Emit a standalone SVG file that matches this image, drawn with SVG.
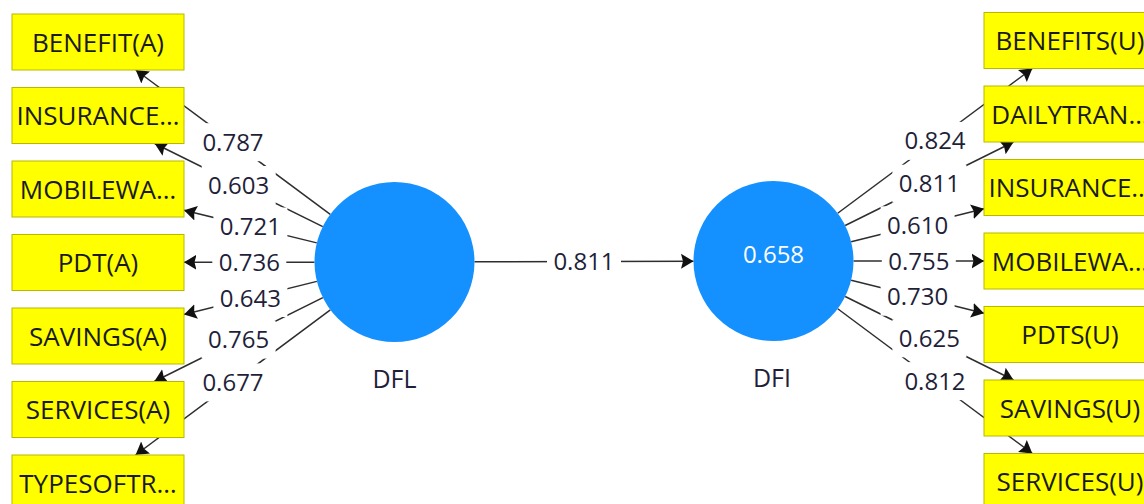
<svg xmlns="http://www.w3.org/2000/svg" width="1144" height="504" viewBox="0 0 1144 504">
  <defs>
    <style>
      .ind rect { fill: #FFFF00; stroke: #B8B800; stroke-width: 1; }
      .ind text { font-family: "Open Sans", "Noto Sans", sans-serif; font-size: 26px; fill: #1a1a1a; text-anchor: middle; }
      .lv circle { fill: #1590FF; }
      .lv text { font-family: "Open Sans", "Noto Sans", sans-serif; font-size: 25px; fill: #1f1f3a; text-anchor: middle; }
      .lv text.r2 { fill: #ffffff; font-size: 24px; }
      .edge { stroke: #2e2e2e; stroke-width: 1.5; fill: none; marker-end: url(#arrow); }
      .lblbg { fill: #ffffff; }
      .lbl { font-family: "Open Sans", "Noto Sans", sans-serif; font-size: 24px; fill: #1f1f3a; text-anchor: middle; }
    </style>
    <marker id="arrow" markerUnits="userSpaceOnUse" markerWidth="13" markerHeight="16" refX="12.5" refY="8" orient="auto">
      <path d="M0,0.5 L12.5,8 L0,15.5 L2,8 z" fill="#111111"/>
    </marker>
  </defs>

  <rect width="1144" height="504" fill="#ffffff"/>

  <!-- connectors: outer loadings, then the structural path -->
  <g id="connectors">
    <line class="edge" x1="330.25" y1="214.33" x2="135.74" y2="70"/>
    <line class="edge" x1="322.77" y1="226.56" x2="154.67" y2="143.5"/>
    <line class="edge" x1="316.82" y1="242.87" x2="184" y2="210.17"/>
    <line class="edge" x1="314.5" y1="262.13" x2="184" y2="262.35"/>
    <line class="edge" x1="316.88" y1="281.37" x2="184" y2="314.54"/>
    <line class="edge" x1="322.87" y1="297.63" x2="154.28" y2="381.5"/>
    <line class="edge" x1="330.36" y1="309.81" x2="135.57" y2="455"/>

    <line class="edge" x1="474.5" y1="261.8" x2="693.5" y2="261.2"/>

    <line class="edge" x1="837.69" y1="213.26" x2="1032.35" y2="68.5"/>
    <line class="edge" x1="845.18" y1="225.46" x2="1013.52" y2="142"/>
    <line class="edge" x1="851.14" y1="241.75" x2="984" y2="208.82"/>
    <line class="edge" x1="853.5" y1="261" x2="984" y2="261"/>
    <line class="edge" x1="851.14" y1="280.25" x2="984" y2="313.18"/>
    <line class="edge" x1="845.18" y1="296.54" x2="1013.52" y2="380"/>
    <line class="edge" x1="837.69" y1="308.74" x2="1032.35" y2="453.5"/>

    <!-- label backgrounds break the lines -->
    <g class="lblbg">
      <rect x="196.0" y="123.2" width="74" height="38"/>
      <rect x="201.7" y="166.0" width="74" height="38"/>
      <rect x="213.4" y="207.5" width="74" height="38"/>
      <rect x="212.3" y="243.2" width="74" height="38"/>
      <rect x="213.4" y="279.0" width="74" height="38"/>
      <rect x="201.6" y="320.6" width="74" height="38"/>
      <rect x="196.0" y="363.4" width="74" height="38"/>
      <rect x="547.0" y="242.5" width="74" height="38"/>
      <rect x="898.0" y="121.9" width="74" height="38"/>
      <rect x="892.4" y="164.7" width="74" height="38"/>
      <rect x="880.6" y="206.3" width="74" height="38"/>
      <rect x="881.8" y="242.0" width="74" height="38"/>
      <rect x="880.6" y="277.7" width="74" height="38"/>
      <rect x="892.4" y="319.3" width="74" height="38"/>
      <rect x="898.0" y="362.1" width="74" height="38"/>
    </g>
    <g class="lbl">
      <text class="lbl" x="233.0" y="150.7">0.787</text>
      <text class="lbl" x="238.7" y="193.5">0.603</text>
      <text class="lbl" x="250.4" y="235.0">0.721</text>
      <text class="lbl" x="249.3" y="270.7">0.736</text>
      <text class="lbl" x="250.4" y="306.5">0.643</text>
      <text class="lbl" x="238.6" y="348.1">0.765</text>
      <text class="lbl" x="233.0" y="390.9">0.677</text>
      <text class="lbl" x="584.0" y="270.0">0.811</text>
      <text class="lbl" x="935.0" y="149.4">0.824</text>
      <text class="lbl" x="929.4" y="192.2">0.811</text>
      <text class="lbl" x="917.6" y="233.8">0.610</text>
      <text class="lbl" x="918.8" y="269.5">0.755</text>
      <text class="lbl" x="917.6" y="305.2">0.730</text>
      <text class="lbl" x="929.4" y="346.8">0.625</text>
      <text class="lbl" x="935.0" y="389.6">0.812</text>
    </g>
  </g>

  <!-- latent variables -->
  <g id="DFL" class="lv">
    <circle cx="394.5" cy="262" r="80"/>
    <text x="394.5" y="388">DFL</text>
  </g>
  <g id="DFI" class="lv">
    <circle cx="773.5" cy="261" r="80"/>
    <text class="r2" x="773.5" y="263">0.658</text>
    <text x="772" y="387">DFI</text>
  </g>

  <!-- DFL indicators -->
  <g id="BENEFIT_A" class="ind"><rect x="12" y="14" width="172" height="56"/><text x="98" y="51.5">BENEFIT(A)</text></g>
  <g id="INSURANCE_A" class="ind"><rect x="12" y="87.5" width="172" height="56"/><text x="98" y="125">INSURANCE…</text></g>
  <g id="MOBILEWA_A" class="ind"><rect x="12" y="161" width="172" height="56"/><text x="98" y="198.5">MOBILEWA…</text></g>
  <g id="PDT_A" class="ind"><rect x="12" y="234.5" width="172" height="56"/><text x="98" y="272">PDT(A)</text></g>
  <g id="SAVINGS_A" class="ind"><rect x="12" y="308" width="172" height="56"/><text x="98" y="345.5">SAVINGS(A)</text></g>
  <g id="SERVICES_A" class="ind"><rect x="12" y="381.5" width="172" height="56"/><text x="98" y="419">SERVICES(A)</text></g>
  <g id="TYPESOFTR_A" class="ind"><rect x="12" y="455" width="172" height="56"/><text x="98" y="492.5">TYPESOFTR…</text></g>

  <!-- DFI indicators (the box column runs past the right edge) -->
  <g id="BENEFITS_U" class="ind"><rect x="984" y="12.5" width="172" height="56"/><text x="1070" y="50">BENEFITS(U)</text></g>
  <g id="DAILYTRAN_U" class="ind"><rect x="984" y="86" width="172" height="56"/><text x="1070" y="123.5">DAILYTRAN…</text></g>
  <g id="INSURANCE_U" class="ind"><rect x="984" y="159.5" width="172" height="56"/><text x="1070" y="197">INSURANCE…</text></g>
  <g id="MOBILEWA_U" class="ind"><rect x="984" y="233" width="172" height="56"/><text x="1070" y="270.5">MOBILEWA…</text></g>
  <g id="PDTS_U" class="ind"><rect x="984" y="306.5" width="172" height="56"/><text x="1070" y="344">PDTS(U)</text></g>
  <g id="SAVINGS_U" class="ind"><rect x="984" y="380" width="172" height="56"/><text x="1070" y="417.5">SAVINGS(U)</text></g>
  <g id="SERVICES_U" class="ind"><rect x="984" y="453.5" width="172" height="56"/><text x="1070" y="491">SERVICES(U)</text></g>
</svg>
